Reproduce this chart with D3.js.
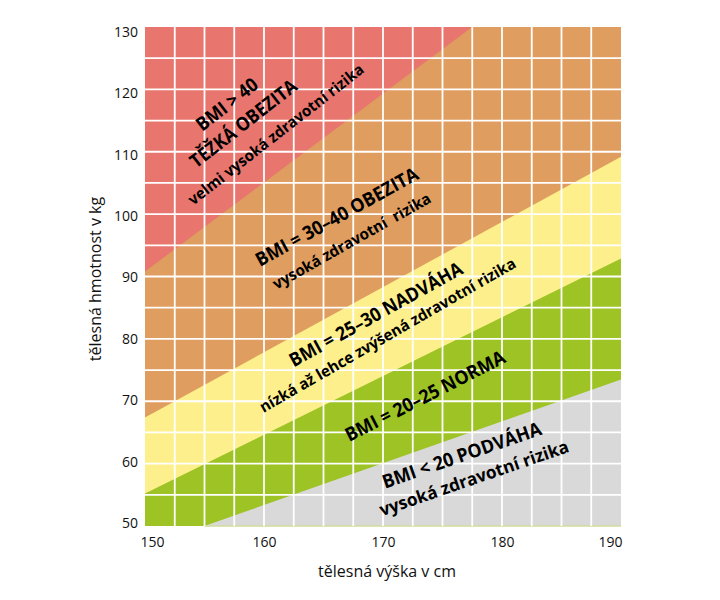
<!DOCTYPE html>
<html>
<head>
<meta charset="utf-8">
<script src="https://cdn.jsdelivr.net/npm/d3@7"></script>
<style>
  html, body { margin: 0; padding: 0; background: #ffffff; }
  svg { display: block; }
  text { font-family: "Open Sans", "DejaVu Sans", sans-serif; }
</style>
</head>
<body>
<svg id="chart" width="720" height="600"></svg>
<script>
// ---- data ----
const heightDomain = [150, 190];          // tělesná výška (cm)
const weightDomain = [50, 130];           // tělesná hmotnost (kg)
const xTickValues = [150, 160, 170, 180, 190];
const yTickValues = [50, 60, 70, 80, 90, 100, 110, 120, 130];

// zone boundaries (height cm, weight kg) as drawn in the chart
const bmi40Line = [[150, 90.8], [177.5, 130]];
const bmi30Line = [[150, 67.4], [190, 109.2]];
const bmi25Line = [[150, 55.2], [190, 92.9]];
const bmi20Line = [[155.0, 50], [190, 73.5]];

const zoneNames = ["podváha", "norma", "nadváha", "obezita", "těžká obezita"];
const zoneColors = ["#d9d9d9", "#9dc325", "#fdf08c", "#df9d5f", "#e8766f"];

const labelTexts = [
  "BMI > 40", "TĚŽKÁ OBEZITA", "velmi vysoká zdravotní rizika",
  "BMI = 30–40 OBEZITA", "vysoká zdravotní  rizika",
  "BMI = 25–30 NADVÁHA", "nízká až lehce zvýšená zdravotní rizika",
  "BMI = 20–25 NORMA",
  "BMI < 20 PODVÁHA", "vysoká zdravotní rizika"
];
const xTitle = "tělesná výška v cm";
const yTitle = "tělesná hmotnost v kg";

// ---- layout (label anchors in data coords) ----
const labelLayout = [
  {h: 156.87, w: 117.62, angle: 38, size: 19, len: 73},
  {h: 158.26, w: 114.56, angle: 38, size: 19, len: 130},
  {h: 160.99, w: 112.81, angle: 38, size: 15.5, len: 218},
  {h: 166.11, w: 99.59,  angle: 29, size: 19, len: 183},
  {h: 167.37, w: 95.72,  angle: 29.5, size: 15.5, len: 179},
  {h: 169.39, w: 83.96,  angle: 29, size: 19, len: 195},
  {h: 170.38, w: 80.62,  angle: 30, size: 15.5, len: 293},
  {h: 173.53, w: 70.87,  angle: 27, size: 19, len: 177},
  {h: 176.61, w: 61.38,  angle: 19, size: 19, len: 167},
  {h: 177.65, w: 57.7,   angle: 19, size: 17.5, len: 199}
];

const plot = {left: 145, right: 621, top: 27, bottom: 526};

const svg = d3.select("#chart");
const x = d3.scaleLinear().domain(heightDomain).range([plot.left, plot.right]);
const y = d3.scaleLinear().domain(weightDomain).range([plot.bottom, plot.top]);
const yLab = d3.scaleLinear().domain(weightDomain).range([523.3, 31.7]);

// zones: each polygon covers everything above its boundary
const [h0, h1] = heightDomain, [w0, w1] = weightDomain;
const zones = [
  [[h0, w0], [h1, w0], [h1, w1], [h0, w1]],
  [[h0, w0], ...bmi20Line, [h1, w1], [h0, w1]],
  [...bmi25Line, [h1, w1], [h0, w1]],
  [...bmi30Line, [h1, w1], [h0, w1]],
  [...bmi40Line, [h0, w1]]
];
const line = d3.line().x(d => x(d[0])).y(d => y(d[1]));
svg.append("g").selectAll("path").data(zones).join("path")
  .attr("d", d => line(d) + "Z")
  .attr("fill", (d, i) => zoneColors[i]);

// faint green seam at bottom of the gray zone
svg.append("path")
  .attr("d", line([bmi20Line[0], [h1, w0]]))
  .attr("stroke", "#cfdc9a").attr("stroke-width", 1.5).attr("fill", "none");

// grid
const gridH = d3.range(152.5, 190, 2.5);
const gridW = d3.range(55, 130, 5);
const grid = svg.append("g").attr("stroke", "#ffffff").attr("stroke-width", 1.8);
grid.selectAll(".gv").data(gridH).join("line")
  .attr("x1", d => x(d)).attr("x2", d => x(d))
  .attr("y1", plot.top).attr("y2", plot.bottom);
grid.selectAll(".gh").data(gridW).join("line")
  .attr("x1", plot.left).attr("x2", plot.right)
  .attr("y1", d => y(d)).attr("y2", d => y(d));

// axes (labels only)
const xAxis = svg.append("g").attr("transform", `translate(0,${plot.bottom})`)
  .call(d3.axisBottom(x).tickValues(xTickValues).tickSize(0).tickPadding(0).tickFormat(d3.format("d")));
xAxis.select(".domain").remove();
xAxis.selectAll("text")
  .attr("y", 21).attr("dy", 0)
  .style("font-family", '"Open Sans", sans-serif')
  .style("font-size", "14px").attr("fill", "#111")
  .attr("text-anchor", (d, i) => i === 0 ? "start" : (i === xTickValues.length - 1 ? "end" : "middle"))
  .attr("dx", (d, i) => i === 0 ? -5 : (i === xTickValues.length - 1 ? 1 : 0));

const yAxis = svg.append("g").attr("transform", `translate(${plot.left},0)`)
  .call(d3.axisLeft(yLab).tickValues(yTickValues).tickSize(0).tickPadding(7).tickFormat(d3.format("d")));
yAxis.select(".domain").remove();
yAxis.selectAll("text")
  .style("font-family", '"Open Sans", sans-serif')
  .style("font-size", "14px").attr("fill", "#111");

// axis titles
svg.append("text").text(xTitle)
  .attr("x", 387).attr("y", 577).attr("text-anchor", "middle")
  .style("font-size", "16px").attr("fill", "#111");
svg.append("text").text(yTitle)
  .attr("transform", "translate(101,279) rotate(-90)").attr("text-anchor", "middle")
  .style("font-size", "16px").attr("fill", "#111");

// zone labels
svg.append("g").selectAll("text").data(labelTexts).join("text")
  .text(d => d)
  .attr("transform", (d, i) => `translate(${x(labelLayout[i].h)},${y(labelLayout[i].w)}) rotate(${-labelLayout[i].angle})`)
  .attr("text-anchor", "middle").attr("dy", "0.36em")
  .attr("textLength", (d, i) => labelLayout[i].len)
  .attr("lengthAdjust", "spacingAndGlyphs")
  .style("white-space", "pre")
  .style("font-weight", "700")
  .style("font-size", (d, i) => labelLayout[i].size + "px")
  .attr("fill", "#000");
</script>
</body>
</html>
